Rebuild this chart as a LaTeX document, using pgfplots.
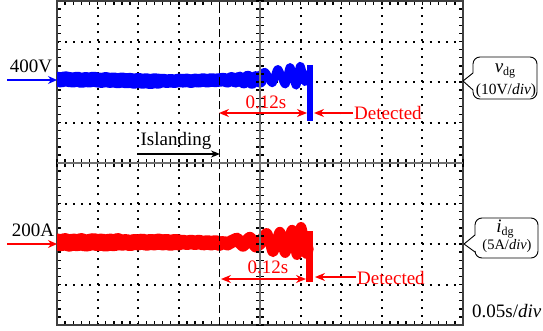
\documentclass[border=0pt]{standalone}
\usepackage{fontspec}
\setmainfont{Liberation Serif}
\usepackage{pgfplots}
\pgfplotsset{compat=1.18}
\usetikzlibrary{arrows.meta}
\definecolor{wblue}{RGB}{0,0,255}
\definecolor{wred}{RGB}{255,0,0}
\begin{document}
\begin{tikzpicture}
\path[use as bounding box] (0pt,0pt) rectangle (543pt,330pt);
\begin{axis}[
  at={(57pt,5pt)}, anchor=south west,
  width=406pt, height=324pt, scale only axis,
  xmin=0,xmax=10,ymin=0,ymax=8,
  xtick={0,1,2,3,5,6,7,8,9,10},
  minor xtick={0,0.2,...,10},
  ytick={0,...,8},
  minor ytick={0,0.2,...,8},
  xticklabels={},yticklabels={},
  grid=major,
  major grid style={black, line width=2pt, dash pattern=on 2pt off 6.1pt},
  tick align=inside,
  major tick length=4pt, minor tick length=4pt,
  tick style={black, line width=1.4pt},
  axis line style={black!75, line width=1.5pt},
  every axis plot/.append style={line cap=round, line join=round},
]
% ---- v_dg (blue) ----
\addplot[wblue, line width=15pt] coordinates {
(0,6.07)(0.1,6.05)(0.2,6.08)(0.3,6.06)(0.4,6.05)(0.5,6.07)(0.6,6.04)(0.7,6.06)(0.8,6.05)(0.9,6.07)
(1.0,6.05)(1.1,6.04)(1.2,6.06)(1.3,6.04)(1.4,6.05)(1.5,6.03)(1.6,6.05)(1.7,6.03)(1.8,6.04)(1.9,6.02)
(2.0,6.04)(2.1,6.02)(2.2,6.03)(2.3,6.01)(2.4,6.03)(2.5,6.02)};
\addplot[wblue, line width=13.5pt] coordinates {
(2.5,6.02)(2.6,6.04)(2.7,6.02)(2.8,6.03)(2.9,6.02)
(3.0,6.04)(3.1,6.03)(3.2,6.04)(3.3,6.02)(3.4,6.04)(3.5,6.03)(3.6,6.05)(3.7,6.03)(3.8,6.05)(3.9,6.04)
(4.0,6.05)(4.1,6.06)(4.2,6.03)(4.3,6.08)(4.4,6.03)(4.5,6.09)(4.6,6.01)(4.7,6.11)(4.8,6.00)(4.9,6.10)(5.0,6.03)};
\addplot[wblue, line width=8pt, smooth] coordinates {
(4.9,6.06)(5.12,6.25)(5.30,5.97)(5.44,6.32)(5.62,5.94)(5.74,6.37)(5.89,5.91)(5.99,6.40)(6.11,6.00)(6.2,6.2)};
\addplot[wblue, line width=6.5pt, line cap=butt] coordinates {(6.23,6.42)(6.23,5.04)};
% ---- i_dg (red) ----
\addplot[wred, line width=17pt] coordinates {
(0,2.05)(0.1,2.03)(0.2,2.06)(0.3,2.02)(0.4,2.05)(0.5,2.03)(0.6,2.06)(0.7,2.02)(0.8,2.04)(0.9,2.06)
(1.0,2.03)(1.1,2.05)(1.2,2.02)(1.3,2.05)(1.4,2.03)(1.5,2.06)};
\addplot[wred, line width=16pt] coordinates {
(1.5,2.06)(1.6,2.03)(1.7,2.05)(1.8,2.02)(1.9,2.05)
(2.0,2.04)(2.1,2.06)(2.2,2.03)(2.3,2.05)(2.4,2.04)(2.5,2.06)(2.6,2.04)(2.7,2.05)(2.8,2.03)(2.9,2.05)
(3.0,2.04)};
\addplot[wred, line width=14.5pt] coordinates {
(3.0,2.04)(3.1,2.05)(3.2,2.03)(3.3,2.05)(3.4,2.03)(3.5,2.05)(3.6,2.02)(3.7,2.04)(3.8,2.02)(3.9,2.04)(4.0,2.01)};
\addplot[wred, line width=13pt] coordinates {
(4.0,2.01)(4.1,2.04)(4.2,2.00)(4.3,2.06)(4.43,2.12)(4.58,1.97)(4.75,2.14)(4.9,1.95)(5.0,2.02)};
\addplot[wred, line width=10pt, smooth] coordinates {
(4.95,1.98)(5.17,2.27)(5.32,1.80)(5.49,2.30)(5.62,1.78)(5.79,2.35)(5.91,1.73)(6.01,2.42)(6.14,1.76)(6.2,1.9)};
\addplot[wred, line width=7pt, line cap=butt] coordinates {(6.22,2.32)(6.22,1.06)};
% islanding dashed line
\draw[black, line width=1.5pt, dash pattern=on 8pt off 4pt] (axis cs:4,0) -- (axis cs:4,8);
\end{axis}
% centre graticule cross
\begin{axis}[
  at={(57pt,5pt)}, anchor=south west,
  width=406pt, height=324pt, scale only axis,
  xmin=-5,xmax=5,ymin=-4,ymax=4,
  axis lines=middle,
  axis line style={-, black!55, line width=1.5pt},
  xtick={-5,-4.8,...,5}, ytick={-4,-3.8,...,4},
  xticklabels={},yticklabels={},
  tick align=center,
  major tick length=8pt,
  tick style={black, line width=1.4pt},
]
\end{axis}
\begin{scope}[x=1pt,y=1pt, every node/.style={inner sep=0pt}]
\fontsize{19}{22}\selectfont
% left markers
\draw[wblue, line width=1.3pt, -{Stealth[length=9pt,width=8pt]}] (7,250) -- (57,250);
\node[anchor=base] at (31,258) {400V};
\draw[wred, line width=1.3pt, -{Stealth[length=9pt,width=8pt]}] (7,86) -- (57,86);
\node[anchor=base] at (33,94) {200A};
% islanding
\node[anchor=base] at (176,185) {Islanding};
\draw[black, line width=1.3pt, -{Stealth[length=9pt,width=7pt]}] (138,176) -- (220,176);
% top annotations
\draw[wred, line width=1.3pt, {Stealth[length=10pt,width=8pt]}-{Stealth[length=10pt,width=8pt]}] (219,217) -- (307,217);
\node[wred, anchor=base] at (266,222) {0.12s};
\draw[wred, line width=1.3pt, -{Stealth[length=10pt,width=8pt]}] (353,217) -- (314,217);
\node[wred, anchor=base west] at (354,211) {Detected};
% bottom annotations
\draw[wred, line width=1.3pt, {Stealth[length=10pt,width=8pt]}-{Stealth[length=10pt,width=8pt]}] (221,51) -- (306,51);
\node[wred, anchor=base] at (268,57) {0.12s};
\draw[wred, line width=1.3pt, -{Stealth[length=10pt,width=8pt]}] (356,53) -- (315,53);
\node[wred, anchor=base west] at (357,46) {Detected};
% callout boxes
\draw[line width=0.9pt, rounded corners=7pt] (473,257) -- (473,273) -- (537,273) -- (537,231) -- (473,231) -- (473,240);
\draw[line width=0.9pt, line join=round] (473,257) -- (463,249) -- (473,240);
\node[anchor=base] at (505,258) {\textit{v}\raisebox{-0.2em}{\fontsize{12}{12}\selectfont dg}};
\node[anchor=base] at (506,236) {\fontsize{15.5}{17}\selectfont (10V/\textit{div})};
\draw[line width=0.9pt, rounded corners=7pt] (475,95) -- (475,112) -- (538,112) -- (538,72) -- (475,72) -- (475,78);
\draw[line width=0.9pt, line join=round] (475,95) -- (464,86) -- (475,78);
\node[anchor=base] at (505,98) {\textit{i}\raisebox{-0.2em}{\fontsize{12}{12}\selectfont dg}};
\node[anchor=base] at (507,81) {\fontsize{14.5}{16}\selectfont (5A/\textit{div})};
% time base
\node[anchor=base west] at (472,13) {0.05s/\textit{div}};
\end{scope}
\end{tikzpicture}
\end{document}
